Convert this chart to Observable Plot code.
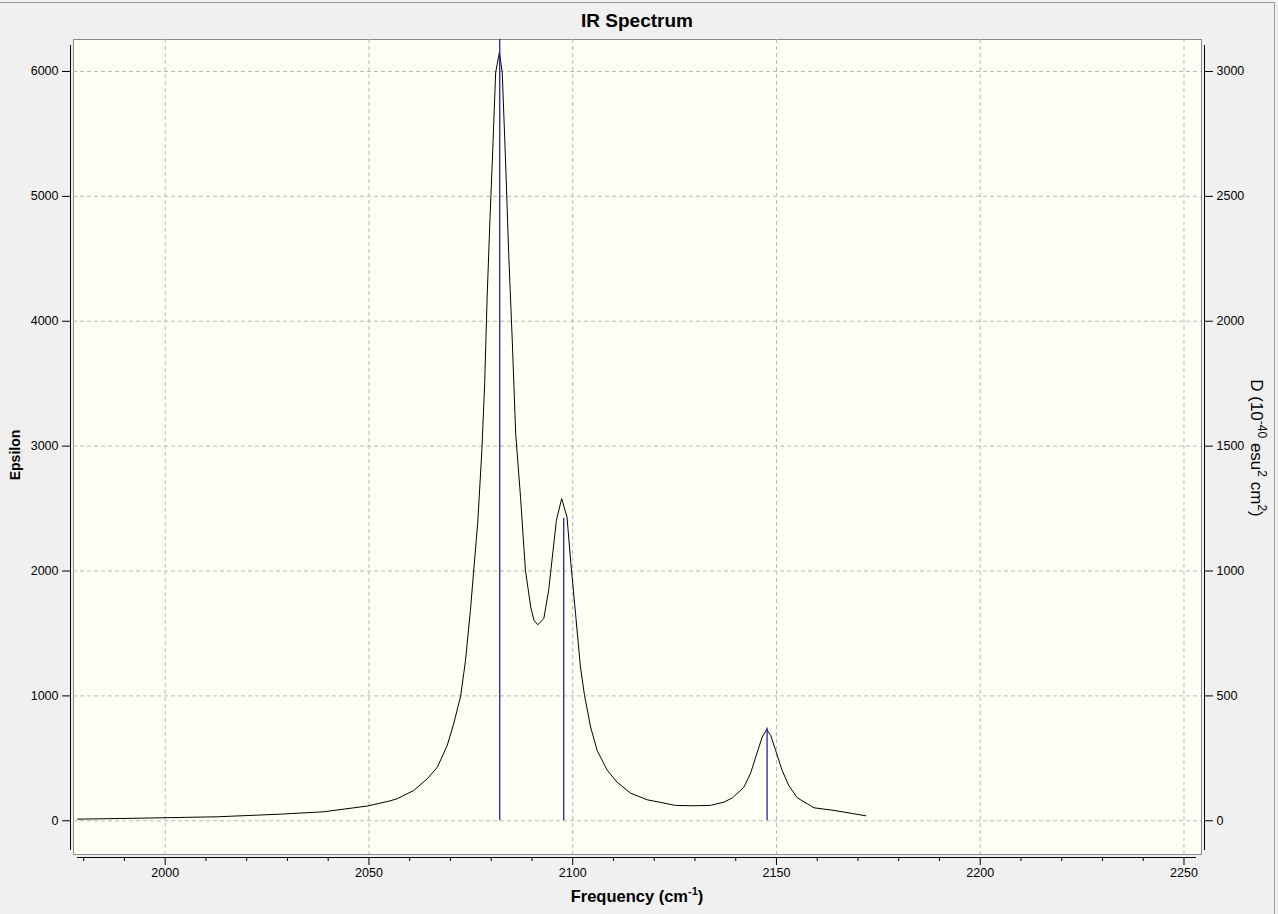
<!DOCTYPE html>
<html><head><meta charset="utf-8">
<script src="https://cdn.jsdelivr.net/npm/d3@7"></script>
<script src="https://cdn.jsdelivr.net/npm/@observablehq/plot@0.6"></script>
<style>
html,body{margin:0;padding:0;background:#f0f0f0;}
body{width:1278px;height:914px;overflow:hidden;font-family:"Liberation Sans",Arial,sans-serif;position:relative;}
#border{position:absolute;left:0;top:2px;width:1274px;height:920px;border-top:1px solid #9a9a9a;border-right:1px solid #9a9a9a;pointer-events:none;}
#title{position:relative;height:30px;box-sizing:border-box;padding:11px 77px 0 73px;line-height:20px;font-size:19px;font-weight:bold;text-align:center;color:#000;}
#chart svg{display:block;}
</style>
</head><body>
<div id="border"></div>
<div id="title">IR Spectrum</div>
<div id="chart"></div>
<script>
// Spectrum curve (frequency cm^-1, epsilon)
const specFreq = [1978.5,1994.2,2012.8,2028.3,2038.9,2049.6,2054.9,2056.9,2061.0,2064.3,2066.8,2069.2,2070.8,2072.5,2073.7,2074.9,2075.7,2076.7,2077.7,2078.4,2079.0,2079.7,2080.3,2081.1,2082.0,2082.7,2083.5,2084.3,2085.2,2086.0,2087.2,2088.4,2089.7,2090.5,2091.4,2092.9,2094.1,2095.0,2096.0,2097.3,2098.6,2099.5,2100.7,2101.9,2102.9,2104.4,2106.0,2108.5,2110.9,2114.2,2118.3,2121.6,2125.2,2129.5,2133.8,2137.1,2139.2,2142.0,2143.6,2145.3,2146.5,2147.6,2148.6,2149.8,2151.4,2153.0,2155.1,2159.2,2164.1,2169.0,2171.9];
const specEps  = [13,21,32,53,72,118,157,176,243,336,430,603,777,998,1284,1685,2000,2390,2961,3504,4192,4820,5307,5994,6150,5994,5307,4534,3819,3104,2590,2005,1711,1605,1570,1618,1845,2112,2406,2580,2432,2080,1658,1231,1004,750,563,403,309,221,168,147,123,120,123,149,184,269,376,550,670,731,683,563,403,283,184,104,83,56,40];

// Stick spectrum (frequency, D in 10^-40 esu^2 cm^2)
const stickFreq = [2082.1, 2097.8, 2147.7];
const stickD    = [3300, 1210, 371];

// Axis ticks
const xMajor = [2000, 2050, 2100, 2150, 2200, 2250];
const xMinor = [1980,1990,2010,2020,2030,2040,2060,2070,2080,2090,2110,2120,2130,2140,2160,2170,2180,2190,2210,2220,2230,2240];
const yTicks = [0, 1000, 2000, 3000, 4000, 5000, 6000];
const dTicks = [0, 500, 1000, 1500, 2000, 2500, 3000];
const epsPerD = 2;

const spectrum = specFreq.map((f, i) => ({f, e: specEps[i]}));
const sticks = stickFreq.map((f, i) => ({f, d: stickD[i]}));

const plot = Plot.plot({
  width: 1278,
  height: 884,
  marginTop: 9,
  marginBottom: 60,
  marginLeft: 73,
  marginRight: 77,
  style: {background: "transparent", fontSize: "12.5px", fontFamily: "'Liberation Sans', Arial, sans-serif", color: "#000"},
  x: {domain: [1977.5, 2254.3], label: null},
  y: {domain: [-270, 6256], label: null},
  marks: [
    Plot.frame({fill: "#fffff6", stroke: "#8a8a8a"}),
    Plot.gridX(xMajor, {stroke: "#b8b8b8", strokeOpacity: 1, strokeDasharray: "4,3"}),
    Plot.gridY(yTicks, {stroke: "#b8b8b8", strokeOpacity: 1, strokeDasharray: "4,3"}),
    // axis lines offset from frame
    Plot.frame({anchor: "left", dx: -3, insetTop: 6, insetBottom: 5, stroke: "#000"}),
    Plot.frame({anchor: "right", dx: 3, insetTop: 6, insetBottom: 5, stroke: "#000"}),
    Plot.frame({anchor: "bottom", dy: 3, insetLeft: 4, insetRight: 6, stroke: "#000"}),
    Plot.axisY(yTicks, {anchor: "left", tickSize: 8, tickPadding: 4, dx: -3, label: null, tickFormat: d => String(d)}),
    Plot.axisY(dTicks.map(d => d * epsPerD), {anchor: "right", tickSize: 8, tickPadding: 4, dx: 3, label: null, tickFormat: e => String(e / epsPerD)}),
    Plot.axisX(xMajor, {anchor: "bottom", tickSize: 8, tickPadding: 3, dy: 3, label: null, tickFormat: d => String(d)}),
    Plot.axisX(xMinor, {anchor: "bottom", tickSize: 4, dy: 3, label: null, fill: "none", tickFormat: () => ""}),
    Plot.line(spectrum, {x: "f", y: "e", stroke: "#000", strokeWidth: 1}),
    Plot.ruleX(sticks, {x: "f", y1: 0, y2: d => d.d * epsPerD, stroke: "#1010a8", strokeWidth: 1.2, clip: true})
  ]
});
document.getElementById("chart").appendChild(plot);

const svg = d3.select(plot);

// Axis titles with superscripts
function addLabel(x, y, rot, size, weight, parts) {
  const t = svg.append("text")
    .attr("transform", `translate(${x},${y}) rotate(${rot})`)
    .attr("text-anchor", "middle")
    .attr("font-weight", weight)
    .style("font-size", size + "px")
    .attr("fill", "#000")
    .attr("font-family", "'Liberation Sans', Arial, sans-serif");
  const sup = Math.round(size * 0.68);
  let shifted = false;
  parts.forEach(([s, isSup]) => {
    const ts = t.append("tspan").text(s);
    if (isSup && !shifted) { ts.attr("dy", -Math.round(size * 0.4)).style("font-size", sup + "px"); shifted = true; }
    else if (isSup) { ts.style("font-size", sup + "px"); }
    else if (shifted) { ts.attr("dy", Math.round(size * 0.4)); shifted = false; }
  });
}
addLabel(20, 425, -90, 14, "bold", [["Epsilon", false]]);
addLabel(637, 872, 0, 16.5, "bold", [["Frequency (cm", false], ["-1", true], [")", false]]);
addLabel(1251, 418, 90, 17, "normal", [["D (10", false], ["-40", true], [" esu", false], ["2", true], [" cm", false], ["2", true], [")", false]]);
</script>
</body></html>
